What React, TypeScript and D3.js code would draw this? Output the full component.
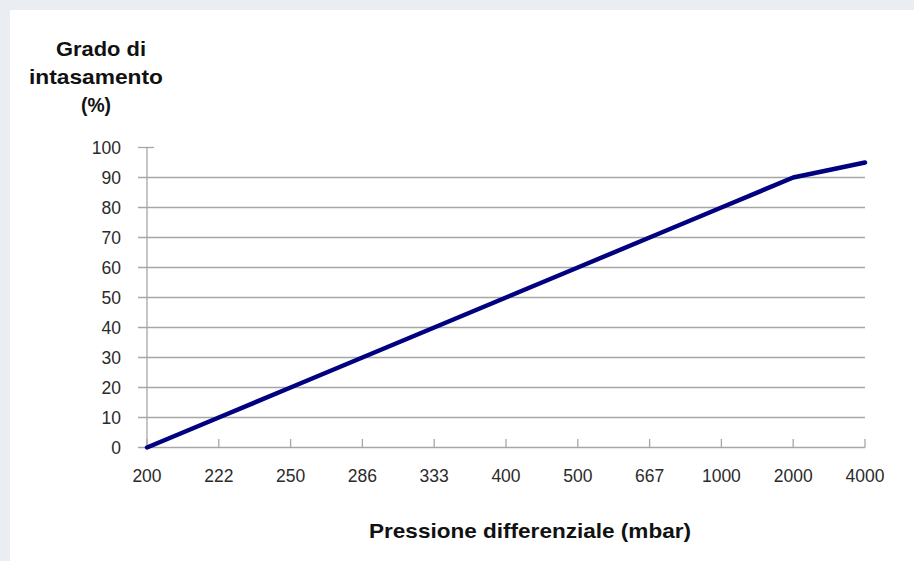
import React from "react";
import * as d3 from "d3";

const pressures = ["200", "222", "250", "286", "333", "400", "500", "667", "1000", "2000", "4000"];
const clogging = [0, 10, 20, 30, 40, 50, 60, 70, 80, 90, 95];
const yTicks = [0, 10, 20, 30, 40, 50, 60, 70, 80, 90, 100];
const yTitleLines = ["Grado di", "intasamento", "(%)"];
const yTitleWidths = [90, 134, 30];
const xTitle = "Pressione differenziale (mbar)";

export default function App() {
  const W = 914, H = 561;
  const x = d3.scalePoint<string>().domain(pressures).range([147, 865]);
  const y = d3.scaleLinear().domain([0, 100]).range([447.5, 147.5]);
  const data = pressures.map((p, i) => ({ p, v: clogging[i] }));
  const line = d3.line<{ p: string; v: number }>().x(d => x(d.p)!).y(d => y(d.v));
  const grid = "#a6a6a6";
  const font = "'Liberation Sans', Arial, sans-serif";
  return (
    <div style={{ position: "absolute", left: 0, top: 0 }}>
      <svg width={W} height={H} style={{ display: "block" }}>
        <rect x={0} y={0} width={W} height={H} fill="#eaeef3" />
        <rect x={10} y={10} width={W - 10} height={H - 10} fill="#ffffff" />
        {yTicks.map(t => t === 100 ? (
          <line key={t} x1={138} x2={154} y1={y(t)} y2={y(t)} stroke={grid} strokeWidth={1.3} />
        ) : (
          <line key={t} x1={138} x2={865} y1={y(t)} y2={y(t)} stroke={grid} strokeWidth={1.3} />
        ))}
        <line x1={147} x2={147} y1={y(100)} y2={y(0)} stroke={grid} strokeWidth={1.3} />
        {pressures.map(p => (
          <line key={p} x1={x(p)} x2={x(p)} y1={439} y2={y(0)} stroke={grid} strokeWidth={1.3} />
        ))}
        {yTicks.map(t => (
          <text key={t} x={121} y={y(t)} dy="0.36em" textAnchor="end" fontFamily={font} fontSize={17.5} fill="#2b2b2b">{t}</text>
        ))}
        {pressures.map(p => (
          <text key={p} x={x(p)} y={482} textAnchor="middle" fontFamily={font} fontSize={17.5} fill="#2b2b2b">{p}</text>
        ))}
        <path d={line(data)!} fill="none" stroke="#000080" strokeWidth={4.5} strokeLinejoin="round" strokeLinecap="round" />
        {yTitleLines.map((s, i) => (
          <text key={s} x={i === 0 ? 101 : 96} y={56 + i * 28} textAnchor="middle" fontFamily={font} fontWeight="bold" fontSize={21} fill="#111"
            textLength={yTitleWidths[i]} lengthAdjust="spacingAndGlyphs">{s}</text>
        ))}
        <text x={530} y={538} textAnchor="middle" fontFamily={font} fontWeight="bold" fontSize={21} fill="#111"
          textLength={322} lengthAdjust="spacingAndGlyphs">{xTitle}</text>
      </svg>
    </div>
  );
}
